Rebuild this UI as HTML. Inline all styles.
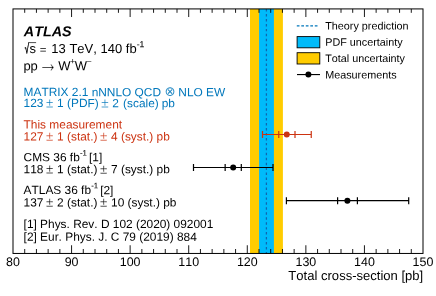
<!DOCTYPE html>
<html><head><meta charset="utf-8"><title>ATLAS WW cross-section</title>
<style>
html,body{margin:0;padding:0;background:#fff;}
body{width:436px;height:296px;overflow:hidden;}
svg{display:block;}
text{font-family:"Liberation Sans",sans-serif;fill:#000;font-kerning:none;}
.t{font-size:11.9px;}
.u{font-size:13px;}
.b{fill:#0077bb;}
.r{fill:#cc3311;}
.lg{font-size:10.8px;}
.tk{font-size:12.45px;text-anchor:middle;}
</style></head><body>
<svg width="436" height="296" viewBox="0 0 436 296">
<rect width="436" height="296" fill="#fff"/>
<rect x="250" y="8.92" width="32.9" height="244.53" fill="#ffcc00"/>
<rect x="259.1" y="8.92" width="14.8" height="244.53" fill="#00bbfa"/>
<line x1="266.4" x2="266.4" y1="8.92" y2="253.45" stroke="#0f66ae" stroke-width="1.25" stroke-dasharray="2.45 2.506" stroke-dashoffset="4.8"/>
<path d="M24.71 8.92v3.90M24.71 253.45v-4.45M36.43 8.92v3.90M36.43 253.45v-4.45M48.14 8.92v3.90M48.14 253.45v-4.45M59.86 8.92v3.90M59.86 253.45v-4.45M71.57 8.92v8.10M71.57 253.45v-8.20M83.29 8.92v3.90M83.29 253.45v-4.45M95.00 8.92v3.90M95.00 253.45v-4.45M106.71 8.92v3.90M106.71 253.45v-4.45M118.43 8.92v3.90M118.43 253.45v-4.45M130.14 8.92v8.10M130.14 253.45v-8.20M141.86 8.92v3.90M141.86 253.45v-4.45M153.57 8.92v3.90M153.57 253.45v-4.45M165.29 8.92v3.90M165.29 253.45v-4.45M177.00 8.92v3.90M177.00 253.45v-4.45M188.71 8.92v8.10M188.71 253.45v-8.20M200.43 8.92v3.90M200.43 253.45v-4.45M212.14 8.92v3.90M212.14 253.45v-4.45M223.86 8.92v3.90M223.86 253.45v-4.45M235.57 8.92v3.90M235.57 253.45v-4.45M247.29 8.92v8.10M247.29 253.45v-8.20M259.00 8.92v3.90M259.00 253.45v-4.45M270.71 8.92v3.90M270.71 253.45v-4.45M282.43 8.92v3.90M282.43 253.45v-4.45M294.14 8.92v3.90M294.14 253.45v-4.45M305.86 8.92v8.10M305.86 253.45v-8.20M317.57 8.92v3.90M317.57 253.45v-4.45M329.29 8.92v3.90M329.29 253.45v-4.45M341.00 8.92v3.90M341.00 253.45v-4.45M352.71 8.92v3.90M352.71 253.45v-4.45M364.43 8.92v8.10M364.43 253.45v-8.20M376.14 8.92v3.90M376.14 253.45v-4.45M387.86 8.92v3.90M387.86 253.45v-4.45M399.57 8.92v3.90M399.57 253.45v-4.45M411.29 8.92v3.90M411.29 253.45v-4.45" stroke="#000" stroke-width="0.9" fill="none"/>
<rect x="13.00" y="8.92" width="410.00" height="244.53" fill="none" stroke="#000" stroke-width="1.0"/>
<text transform="matrix(1 0.0005 0 1 0 -0.0065)" class="tk" x="13.00" y="265.95">80</text>
<text transform="matrix(1 0.0005 0 1 0 -0.0358)" class="tk" x="71.57" y="265.95">90</text>
<text transform="matrix(1 0.0005 0 1 0 -0.0651)" class="tk" x="130.14" y="265.95">100</text>
<text transform="matrix(1 0.0005 0 1 0 -0.0944)" class="tk" x="188.71" y="265.95">110</text>
<text transform="matrix(1 0.0005 0 1 0 -0.1236)" class="tk" x="247.29" y="265.95">120</text>
<text transform="matrix(1 0.0005 0 1 0 -0.1529)" class="tk" x="305.86" y="265.95">130</text>
<text transform="matrix(1 0.0005 0 1 0 -0.1822)" class="tk" x="364.43" y="265.95">140</text>
<text transform="matrix(1 0.0005 0 1 0 -0.2115)" class="tk" x="423.00" y="265.95">150</text>
<text transform="matrix(1 0.0005 0 1 0 -0.2116)" x="423.25" y="280" font-size="13.05" text-anchor="end">Total cross-section [pb]</text>
<g stroke="#cc3311" stroke-width="1.2" fill="none"><path d="M262.50 134.50H311.25M262.50 131.00v7M311.25 131.00v7M278.75 131.00v7M295.00 131.00v7"/></g><circle cx="286.75" cy="134.50" r="3" fill="#cc3311"/>
<g stroke="#000" stroke-width="1.2" fill="none"><path d="M193.50 167.50H273.00M193.50 164.00v7M273.00 164.00v7M225.15 164.00v7M241.30 164.00v7"/></g><circle cx="233.20" cy="167.50" r="3" fill="#000"/>
<g stroke="#000" stroke-width="1.2" fill="none"><path d="M286.40 200.65H408.70M286.40 197.15v7M408.70 197.15v7M337.60 197.15v7M357.40 197.15v7"/></g><circle cx="347.40" cy="200.65" r="3" fill="#000"/>
<line x1="296.8" x2="317.6" y1="25.9" y2="25.9" stroke="#0077bb" stroke-width="1.3" stroke-dasharray="2.7 1.8"/>
<rect x="297.1" y="36.6" width="22.7" height="11.2" fill="#00bbfa" stroke="#000" stroke-width="0.9"/>
<rect x="297.1" y="52.7" width="22.7" height="11.3" fill="#ffcc00" stroke="#000" stroke-width="0.9"/>
<line x1="297" x2="320" y1="74.55" y2="74.55" stroke="#000" stroke-width="1.15"/><circle cx="308.4" cy="74.6" r="3" fill="#000"/>
<text transform="matrix(1 0.0005 0 1 0 -0.1626)" class="lg" x="325.2" y="29.5">Theory prediction</text>
<text transform="matrix(1 0.0005 0 1 0 -0.1626)" class="lg" x="325.2" y="45.7">PDF uncertainty</text>
<text transform="matrix(1 0.0005 0 1 0 -0.1626)" class="lg" x="325.2" y="62.0">Total uncertainty</text>
<text transform="matrix(1 0.0005 0 1 0 -0.1626)" class="lg" x="325.2" y="78.4">Measurements</text>
<text transform="matrix(1 0.0005 0 1 0 -0.0119)" x="23.8" y="36.3" font-size="14.35" font-weight="bold" font-style="italic">ATLAS</text>
<text transform="translate(24.8,53.5) scale(0.57,1.03) matrix(1 0.0005 0 1 0 0)" font-size="13.3" stroke="#000" stroke-width="0.5">√</text><path d="M28.5 42.6H36.1" stroke="#000" stroke-width="0.7" fill="none"/>
<text transform="matrix(1 0.0005 0 1 0 -0.0148)" class="u" x="29.5" y="52.9">s<tspan dx="3.7" dy="0.5" font-size="11.5">=</tspan><tspan dy="-0.5" dx="1.3"> 13 TeV, 140 fb</tspan><tspan font-size="8.6" dy="-5.7" dx="0.1" stroke="#000" stroke-width="0.08">-1</tspan></text>
<text transform="matrix(1 0.0005 0 1 0 -0.0117)" class="u" x="23.4" y="70.2">pp</text><text transform="translate(37.95,71.9) scale(1,1.35) matrix(1 0.0005 0 1 0 0)" font-size="20" stroke="#fff" stroke-width="0.3">→</text>
<text transform="matrix(1 0.0005 0 1 0 -0.0291)" class="u" x="58.2" y="70.2">W<tspan font-size="8.5" dy="-6.2" dx="-0.1">+</tspan><tspan dy="6.2" dx="-0.5">W</tspan><tspan font-size="9" dy="-5.6" dx="-0.6">−</tspan></text>
<text transform="matrix(1 0.0005 0 1 0 -0.0118)" class="t b" x="23.6" y="96.1">MATRIX 2.1 nNNLO QCD <tspan font-family="DejaVu Sans,sans-serif" font-size="13.2" dy="-0.3" dx="0.2" stroke="#fff" stroke-width="0.12">⊗</tspan><tspan dy="0.3" dx="-0.6"> NLO EW</tspan></text>
<text transform="matrix(1 0.0005 0 1 0 -0.0118)" class="t b" x="23.6" y="107.1">123 <tspan dx="-0.65" dy="0.3" font-size="13.4" stroke="#fff" stroke-width="0.25">±</tspan><tspan dx="0.32" dy="-0.3"> 1 (PDF)</tspan> <tspan dx="-0.65" dy="0.3" font-size="13.4" stroke="#fff" stroke-width="0.25">±</tspan><tspan dx="0.32" dy="-0.3"> 2</tspan><tspan dx="0.8"> (scale)</tspan><tspan dx="-0.4"> pb</tspan></text>
<text transform="matrix(1 0.0005 0 1 0 -0.0118)" class="t r" x="23.6" y="128.4">This measurement</text>
<text transform="matrix(1 0.0005 0 1 0 -0.0118)" class="t r" x="23.6" y="140.4">127 <tspan dx="-0.65" dy="0.3" font-size="13.4" stroke="#fff" stroke-width="0.25">±</tspan><tspan dx="0.32" dy="-0.3"> 1 (stat.)</tspan> <tspan dx="-0.65" dy="0.3" font-size="13.4" stroke="#fff" stroke-width="0.25">±</tspan><tspan dx="0.32" dy="-0.3"> 4 (syst.) pb</tspan></text>
<text transform="matrix(1 0.0005 0 1 0 -0.0118)" class="t" x="23.6" y="161.3">CMS 36 fb<tspan font-size="7.8" dy="-5.8" dx="0.2" stroke="#000" stroke-width="0.08">-1</tspan><tspan dy="5.8" x="89.0">[1]</tspan></text>
<text transform="matrix(1 0.0005 0 1 0 -0.0118)" class="t" x="23.6" y="173.3">118 <tspan dx="-0.65" dy="0.3" font-size="13.4" stroke="#fff" stroke-width="0.25">±</tspan><tspan dx="0.32" dy="-0.3"> 1 (stat.)</tspan> <tspan dx="-0.65" dy="0.3" font-size="13.4" stroke="#fff" stroke-width="0.25">±</tspan><tspan dx="0.32" dy="-0.3"> 7 (syst.) pb</tspan></text>
<text transform="matrix(1 0.0005 0 1 0 -0.0118)" class="t" x="23.6" y="194.1">ATLAS 36 fb<tspan font-size="7.8" dy="-5.8" dx="0.2" stroke="#000" stroke-width="0.08">-1</tspan><tspan dy="5.8" x="100.2">[2]</tspan></text>
<text transform="matrix(1 0.0005 0 1 0 -0.0118)" class="t" x="23.6" y="206.5">137 <tspan dx="-0.65" dy="0.3" font-size="13.4" stroke="#fff" stroke-width="0.25">±</tspan><tspan dx="0.32" dy="-0.3"> 2 (stat.)</tspan> <tspan dx="-0.65" dy="0.3" font-size="13.4" stroke="#fff" stroke-width="0.25">±</tspan><tspan dx="0.32" dy="-0.3"> 10 (syst.) pb</tspan></text>
<text transform="matrix(1 0.0005 0 1 0 -0.0118)" class="t" x="23.6" y="227.9">[1] Phys. Rev. D 102 (2020) 092001</text>
<text transform="matrix(1 0.0005 0 1 0 -0.0118)" class="t" x="23.6" y="240.8">[2] Eur. Phys. J. C 79 (2019) 884</text>
</svg>
</body></html>
